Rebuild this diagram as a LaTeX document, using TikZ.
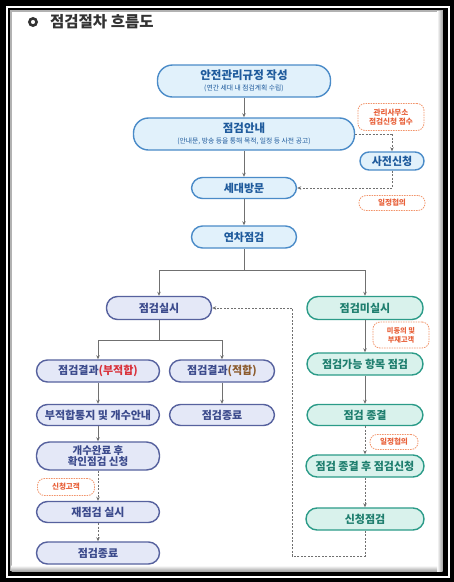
\documentclass[tikz,border=0pt]{standalone}
\usepackage{fontspec}
\setmainfont{Noto Sans CJK KR}
\usetikzlibrary{arrows.meta,calc}
\definecolor{blueB}{HTML}{4A8BC8}
\definecolor{blueF}{HTML}{E1F1FB}
\definecolor{blueT}{HTML}{1E5A9C}
\definecolor{lavB}{HTML}{56619E}
\definecolor{lavF}{HTML}{E4E8F7}
\definecolor{lavT}{HTML}{3B4A8C}
\definecolor{mintB}{HTML}{2B9B88}
\definecolor{mintF}{HTML}{D9F2EC}
\definecolor{mintT}{HTML}{1E7E6E}
\definecolor{orB}{HTML}{F2946B}
\definecolor{orT}{HTML}{E8613A}
\definecolor{conn}{HTML}{707070}
\definecolor{redT}{HTML}{D9303A}
\definecolor{brT}{HTML}{8B5A2B}
\newcommand\subtxt{\fontsize{6.8}{8}\selectfont\mdseries}
\begin{document}
\begin{tikzpicture}[x=1pt,y=-1pt,
  pill/.style={rectangle,rounded corners=11pt,line width=1.4pt,inner sep=0pt,align=center,font=\fontsize{11}{12.5}\selectfont\bfseries},
  bluebox/.style={pill,draw=blueB,fill=blueF,text=blueT},
  lavbox/.style={pill,draw=lavB,fill=lavF,text=lavT},
  mintbox/.style={pill,draw=mintB,fill=mintF,text=mintT},
  note/.style={rectangle,rounded corners=7pt,draw=orB,dash pattern=on 1.5pt off 1pt,line width=0.8pt,fill=white,text=orT,inner sep=0pt,align=center,font=\fontsize{7.6}{9}\selectfont\bfseries},
  link/.style={draw=conn,line width=0.8pt,-{Stealth[length=4pt,width=3.5pt]}},
  dlink/.style={link,dash pattern=on 2pt off 1.5pt},
  dline/.style={draw=conn,line width=0.8pt,dash pattern=on 2pt off 1.5pt},
  sline/.style={draw=conn,line width=0.8pt}]
\useasboundingbox (0,0) rectangle (454,582);
% frame
\fill[black] (0,0) rectangle (454,582);
\draw[white,line width=2pt] (7,7) rectangle (448.5,576.5);
\fill[black] (8.5,8.5) rectangle (447,575);
\fill[gray!60] (10,10) rectangle (442.5,571);
\fill[white] (11.5,11.5) rectangle (437,565.5);
\shade[left color=white,right color=gray!70] (437,11.5) rectangle (442.5,571);
\shade[top color=white,bottom color=gray!70] (11.5,565.5) rectangle (437,571);
% title
\draw[line width=2.6pt,black!80] (33,22) circle (3.6pt);
\node[anchor=west,inner sep=0pt,text=black!80,font=\fontsize{15.5}{17}\selectfont\bfseries] (title) at (50,22) {점검절차 흐름도};
% main column
\node[bluebox,rounded corners=15pt,minimum width=173pt,minimum height=32pt,font=\fontsize{11.5}{13}\selectfont\bfseries] (n1) at (244,81) {안전관리규정 작성\\[-2pt]{\subtxt (연간 세대 내 점검계획 수립)}};
\node[bluebox,rounded corners=15pt,minimum width=221pt,minimum height=32pt,font=\fontsize{11.5}{13}\selectfont\bfseries] (n2) at (244,134) {점검안내\\[-2pt]{\subtxt (안내문, 방송 등을 통해 목적, 일정 등 사전 공고)}};
\node[bluebox,minimum width=105pt,minimum height=21pt] (n3) at (244,188) {세대방문};
\node[bluebox,minimum width=105pt,minimum height=22pt] (n4) at (244,237) {연차점검};
% side
\node[note,minimum width=66pt,minimum height=27pt] (a1) at (391,117) {관리사무소\\점검신청 접수};
\node[bluebox,minimum width=64pt,minimum height=18pt,rounded corners=9pt] (pre) at (392,161) {사전신청};
\node[note,minimum width=66pt,minimum height=15pt] (a2) at (392,203) {일정협의};
% second level
\node[lavbox,minimum width=105pt,minimum height=23pt] (s1) at (159,308) {점검실시};
\node[mintbox,minimum width=116pt,minimum height=23pt] (m1) at (365,308) {점검미실시};
% left column
\node[lavbox,minimum width=123pt,minimum height=22pt] (r1) at (98,371) {점검결과{\color{redT}(부적합)}};
\node[lavbox,minimum width=105pt,minimum height=22pt] (r2) at (222,371) {점검결과{\color{brT}(적합)}};
\node[lavbox,minimum width=123pt,minimum height=21pt] (l2) at (98,415) {부적합통지 및 개수안내};
\node[lavbox,minimum width=105pt,minimum height=21pt] (e1) at (222,415) {점검종료};
\node[lavbox,rounded corners=13pt,minimum width=123pt,minimum height=28pt,font=\fontsize{10.5}{11.5}\selectfont\bfseries] (l3) at (98,456) {개수완료 후\\확인점검 신청};
\node[note,minimum width=57pt,minimum height=17pt] (a3) at (66,487) {신청고객};
\node[lavbox,minimum width=123pt,minimum height=21pt] (l4) at (98,512) {재점검 실시};
\node[lavbox,minimum width=123pt,minimum height=22pt] (l5) at (98,553) {점검종료};
% right column
\node[note,minimum width=56pt,minimum height=26pt,font=\fontsize{7.2}{8.6}\selectfont\bfseries] (a4) at (401,335) {미동의 및\\부재고객};
\node[mintbox,minimum width=116pt,minimum height=22pt] (m2) at (365,364) {점검가능 항목 점검};
\node[mintbox,minimum width=116pt,minimum height=21pt] (m3) at (365,415) {점검 종결};
\node[note,minimum width=48pt,minimum height=15pt] (a5) at (394,442) {일정협의};
\node[mintbox,minimum width=118pt,minimum height=22pt] (m4) at (365,466) {점검 종결 후 점검신청};
\node[mintbox,minimum width=118pt,minimum height=22pt] (m5) at (365,519) {신청점검};
% coordinates
\coordinate (j1) at (244,270);
\coordinate (j2) at (159,340);
\coordinate (p1) at (392,134);
\coordinate (p2) at (392,188);
\coordinate (q1) at (365,556);
\coordinate (q2) at (292,556);
\coordinate (q3) at (292,308);
% connectors
\draw[link] (n1.south) -- (n2.north);
\draw[link] (n2.south) -- (n3.north);
\draw[link] (n3.south) -- (n4.north);
\draw[dline] (n2.east |- p1) -- (p1);
\draw[dlink] (p1) -- (pre.north);
\draw[dline] (pre.south) -- (p2);
\draw[dlink] (p2) -- (n3.east);
\draw[sline] (n4.south) -- (j1);
\draw[link] (j1) -| (s1.north);
\draw[link] (j1) -| (m1.north);
\draw[sline] (s1.south) -- (j2);
\draw[link] (j2) -| (r1.north);
\draw[link] (j2) -| (r2.north);
\draw[link] (r1.south) -- (l2.north);
\draw[link] (r2.south) -- (e1.north);
\draw[link] (l2.south) -- (l3.north);
\draw[dlink] (l3.south) -- (l4.north);
\draw[dlink] (l4.south) -- (l5.north);
\draw[link] (m1.south) -- (m2.north);
\draw[link] (m2.south) -- (m3.north);
\draw[dlink] (m3.south) -- (m4.north);
\draw[dlink] (m4.south) -- (m5.north);
\draw[dline] (m5.south) -- (q1) -- (q2) -- (q3);
\draw[dlink] (q3) -- (s1.east);
\end{tikzpicture}
\end{document}
